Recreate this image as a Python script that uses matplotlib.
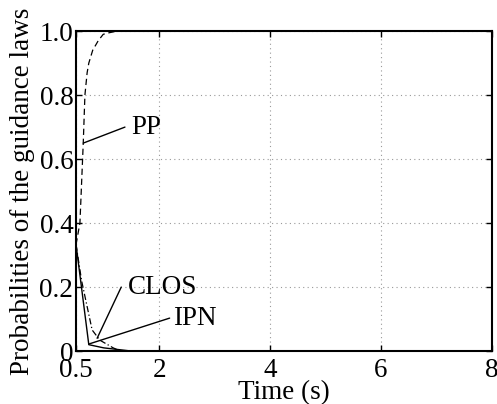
import matplotlib
matplotlib.use("Agg")
import matplotlib.pyplot as plt

plt.rcParams['font.family'] = ['Liberation Serif', 'DejaVu Serif']
plt.rcParams['mathtext.fontset'] = 'stix'

# Data
t_pp = [0.5, 0.57, 0.63, 0.66, 0.70, 0.73, 0.80, 0.90, 0.99, 1.10, 1.24, 8.0]
p_pp = [0.333, 0.40, 0.65, 0.80, 0.87, 0.90, 0.94, 0.97, 0.99, 0.995, 1.0, 1.0]

t_ipn = [0.5, 0.73, 1.0, 1.5, 8.0]
p_ipn = [0.333, 0.02, 0.01, 0.0, 0.0]

t_clos = [0.5, 0.60, 0.79, 0.93, 1.17, 1.30, 8.0]
p_clos = [0.333, 0.22, 0.066, 0.034, 0.01, 0.0, 0.0]

xticks = [0.5, 2, 4, 6, 8]
xticklabels = ['0.5', '2', '4', '6', '8']
yticks = [0, 0.2, 0.4, 0.6, 0.8, 1.0]
yticklabels = ['0', '0.2', '0.4', '0.6', '0.8', '1.0']

FS = 19.5

fig = plt.figure(figsize=(4.97, 4.04), dpi=100)
ax = fig.add_axes([0.153, 0.131, 0.837, 0.792])

ax.plot(t_pp, p_pp, color='black', linestyle=(0, (5, 3)), linewidth=0.9)
ax.plot(t_ipn, p_ipn, color='black', linestyle='-', linewidth=1.0)
ax.plot(t_clos, p_clos, color='black', linestyle=(0, (5, 2, 1, 2)), linewidth=0.9)

ax.set_xlim(0.5, 8)
ax.set_ylim(0, 1.0)
ax.set_xticks(xticks)
ax.set_xticklabels(xticklabels)
ax.set_yticks(yticks)
ax.set_yticklabels(yticklabels)
ax.tick_params(direction='in', top=True, right=True, labelsize=FS, length=4, width=1, pad=2)
ax.tick_params(axis='x', pad=5)
ax.grid(True, linestyle=(0, (1, 3)), color='#999999', linewidth=0.8)
for s in ax.spines.values():
    s.set_linewidth(1.5)

ax.set_xlabel('Time (s)', fontsize=FS, labelpad=-2)
ax.set_ylabel('Probabilities of the guidance laws', fontsize=FS, labelpad=3)

# Annotations
ax.annotate('PP', xy=(0.63, 0.65), xytext=(1.49, 0.70), fontsize=FS,
            va='center', ha='left',
            arrowprops=dict(arrowstyle='-', color='black', lw=1.0,
                            shrinkA=0, shrinkB=0, relpos=(-0.2, 0.5)))
ax.annotate('CLOS', xy=(0.88, 0.04), xytext=(1.44, 0.20), fontsize=FS,
            va='center', ha='left',
            arrowprops=dict(arrowstyle='-', color='black', lw=1.0,
                            shrinkA=0, shrinkB=0, relpos=(-0.1, 0.5)))
ax.annotate('IPN', xy=(0.73, 0.022), xytext=(2.25, 0.103), fontsize=FS,
            va='center', ha='left',
            arrowprops=dict(arrowstyle='-', color='black', lw=1.0,
                            shrinkA=0, shrinkB=0, relpos=(-0.08, 0.5)))

fig.savefig('out.png', dpi=100)
